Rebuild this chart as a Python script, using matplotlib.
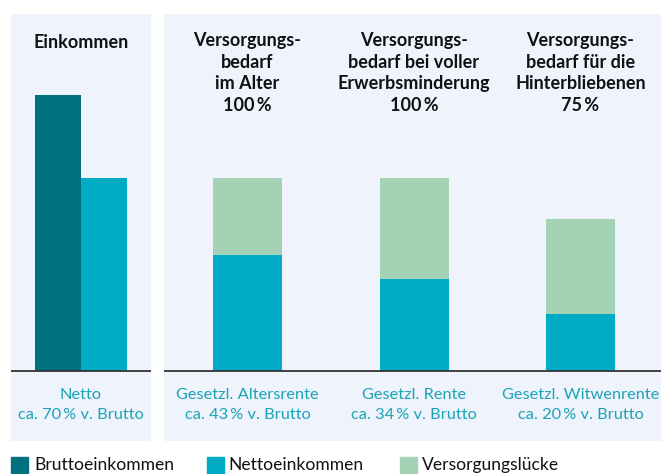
import matplotlib.pyplot as plt
from matplotlib.patches import Rectangle

plt.rcParams['font.family'] = ['Lato', 'DejaVu Sans']

# data (Brutto = 100)
einkommen_labels = ['Bruttoeinkommen', 'Nettoeinkommen']
einkommen_values = [100, 70]
bedarf_titles = ['Versorgungs-\nbedarf\nim Alter\n100\u2009%',
                 'Versorgungs-\nbedarf bei voller\nErwerbsminderung\n100\u2009%',
                 'Versorgungs-\nbedarf für die\nHinterbliebenen\n75\u2009%']
rente_values = [42, 33.5, 20.5]
bedarf_values = [70, 70, 55]
luecke_values = [b - r for b, r in zip(bedarf_values, rente_values)]
left_label = 'Netto\nca. 70\u2009% v. Brutto'
right_labels = ['Gesetzl. Altersrente\nca. 43\u2009% v. Brutto',
                'Gesetzl. Rente\nca. 34\u2009% v. Brutto',
                'Gesetzl. Witwenrente\nca. 20\u2009% v. Brutto']

c_brutto = '#00707f'
c_netto = '#00abc5'
c_luecke = '#a3d2b4'
c_bg = '#eff4fc'
c_label = '#1aa3b5'

W, H = 661, 474
fig = plt.figure(figsize=(W / 100, H / 100), dpi=100)

# pixel helpers
base_px, top100_px = 371, 95
scale = (base_px - top100_px) / 100.0
panel_top, panel_bot = 14, 441
ylim = (-(panel_bot - base_px) / scale, (base_px - panel_top) / scale)


def ypx(y):
    return (base_px - y) / scale


def make_ax(x0, x1):
    ax = fig.add_axes([x0 / W, (H - panel_bot) / H, (x1 - x0) / W, (panel_bot - panel_top) / H])
    ax.set_facecolor(c_bg)
    for s in ax.spines.values():
        s.set_visible(False)
    ax.set_xticks([])
    ax.set_yticks([])
    ax.set_ylim(*ylim)
    ax.axhline(0, color='#333333', lw=1.3, zorder=3)
    return ax


# left panel
ax1 = make_ax(11, 151)
ax1.set_xlim(-1.52, 1.52)
ax1.bar([-0.5, 0.5], einkommen_values, width=1.0, color=[c_brutto, c_netto], zorder=2)
ax1.text(0, ypx(43), 'Einkommen', ha='center', va='center', fontsize=13, fontweight='bold', color='#111111')
ax1.text(0, ypx(405), left_label, ha='center', va='center', fontsize=11.8, color=c_label, linespacing=1.48)

# right panel
ax2 = make_ax(164, 661)
unit = 166.5
ax2.set_xlim(-83.5 / unit, (497 - 83.5) / unit)
xs = range(len(rente_values))
bw = 69 / unit
ax2.bar(xs, rente_values, width=bw, color=c_netto, zorder=2)
ax2.bar(xs, luecke_values, bottom=rente_values, width=bw, color=c_luecke, zorder=2)
for i in xs:
    ax2.text(i, ypx(73), bedarf_titles[i], ha='center', va='center', fontsize=13, fontweight='bold',
             color='#111111', linespacing=1.35)
    ax2.text(i, ypx(405), right_labels[i], ha='center', va='center', fontsize=11.8, color=c_label,
             linespacing=1.48)

# legend at bottom
legend_items = [('Bruttoeinkommen', c_brutto, 11, 34),
                ('Nettoeinkommen', c_netto, 207, 228),
                ('Versorgungslücke', c_luecke, 400, 422)]
for text, col, sx, tx in legend_items:
    fig.patches.append(Rectangle((sx / W, 0), 17 / W, (H - 457) / H, transform=fig.transFigure,
                                 color=col, figure=fig))
    fig.text(tx / W, (H - 465) / H, text, ha='left', va='center', fontsize=12.6, color='#111111')

fig.savefig('out.png', dpi=100)
